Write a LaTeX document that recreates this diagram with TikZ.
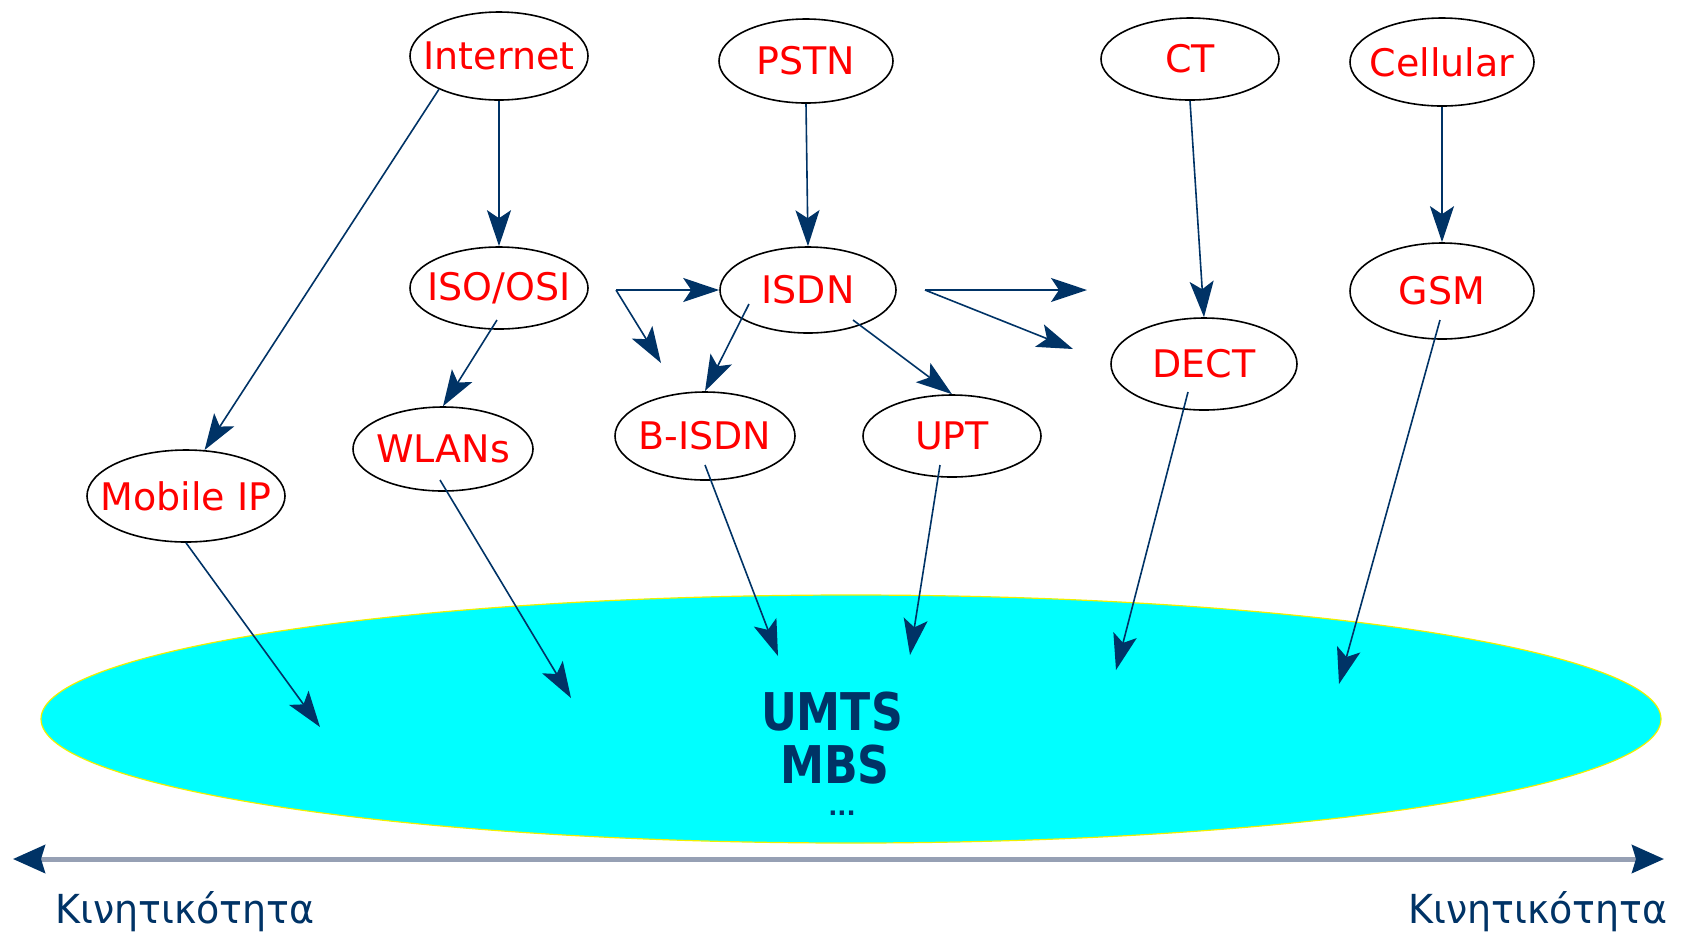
\documentclass[tikz,border=0pt]{standalone}
\usepackage{fontspec}
\setmainfont{DejaVu Sans}
\newfontfamily\greekfont[FakeStretch=0.95]{DejaVu Sans}
\newfontfamily\bigfont[FakeStretch=0.85]{DejaVu Sans}
\usetikzlibrary{shapes.geometric,arrows.meta}
\definecolor{navy}{RGB}{0,51,102}
\definecolor{umtscyan}{RGB}{0,255,255}
\definecolor{axisgrey}{RGB}{150,160,180}
\definecolor{rimyellow}{RGB}{240,240,0}

% a label that does not widen its ellipse
\newcommand\techname[1]{\makebox[0pt][c]{#1}}

\tikzset{
  tech/.style={ellipse, draw=black, line width=0.8pt, inner sep=0pt,
    text=red, font=\fontsize{19}{19}\selectfont},
  link/.style={navy, line width=0.8pt,
    -{Stealth[length=18pt,width=12pt,inset=4pt]}},
  biglabel/.style={text=navy, inner sep=0pt, font=\bigfont\bfseries\fontsize{26}{26}\selectfont},
  axislabel/.style={text=navy, font=\greekfont\fontsize{20}{20}\selectfont},
}

\begin{document}
\begin{tikzpicture}[x=0.5pt,y=-0.5pt]
\useasboundingbox (0,0) rectangle (1683,934);
\fill[white] (0,0) rectangle (1683,934);

% the common platform
\node[ellipse, draw=rimyellow, line width=0.6pt, fill=umtscyan,
      minimum width=810pt, minimum height=124pt, inner sep=0pt] (umts) at (851,719) {};
\node[biglabel] (umtstxt) at (832,712) {UMTS};
\node[biglabel] (mbstxt) at (835,765) {MBS};
\node[text=navy, inner sep=0pt, font=\bfseries\fontsize{12}{12}\selectfont] (dots) at (842,813) {...};

% technologies
\node[tech, minimum width=89pt, minimum height=44pt] (internet) at (499,56) {\techname{Internet}};
\node[tech, minimum width=87pt, minimum height=42pt] (pstn) at (806,61) {\techname{PSTN}};
\node[tech, minimum width=89pt, minimum height=41pt] (ct) at (1190,59) {\techname{CT}};
\node[tech, minimum width=92pt, minimum height=44pt] (cellular) at (1442,62) {\techname{Cellular}};
\node[tech, minimum width=89pt, minimum height=41pt] (iso) at (499,288) {\techname{ISO/OSI}};
\node[tech, minimum width=88pt, minimum height=43pt] (isdn) at (808,290) {\techname{ISDN}};
\node[tech, minimum width=92pt, minimum height=48pt] (gsm) at (1442,291) {\techname{GSM}};
\node[tech, minimum width=93pt, minimum height=46pt] (dect) at (1204,364) {\techname{DECT}};
\node[tech, minimum width=90pt, minimum height=44pt] (bisdn) at (705,436) {\techname{B-ISDN}};
\node[tech, minimum width=89pt, minimum height=41pt] (upt) at (952,436) {\techname{UPT}};
\node[tech, minimum width=90pt, minimum height=42pt] (wlans) at (443,449) {\techname{WLANs}};
\node[tech, minimum width=99pt, minimum height=46pt] (mobip) at (186,496) {\techname{Mobile IP}};

% connector end points
\coordinate (isofork) at (616,290);
\coordinate (isoloose) at (661,363);
\coordinate (isdnfork) at (925,290);
\coordinate (isdnlooseA) at (1087,290);
\coordinate (isdnlooseB) at (1073,349);
\coordinate (isdnfootL) at (749,304);
\coordinate (isdnfootR) at (853,320);
\coordinate (isofoot) at (497,320);
\coordinate (wlansfoot) at (440,480);
\coordinate (bisdnfoot) at (705,465);
\coordinate (uptfoot) at (940,465);
\coordinate (dectfoot) at (1188,392);
\coordinate (gsmfoot) at (1440,320);
\coordinate (hitA) at (320,727);
\coordinate (hitB) at (571,698);
\coordinate (hitC) at (778,656);
\coordinate (hitD) at (910,655);
\coordinate (hitE) at (1116,670);
\coordinate (hitF) at (1339,684);

% evolution arrows
\draw[link] (internet.209) -- (mobip.68);
\draw[link] (internet.south) -- (iso.north);
\draw[link] (pstn.south) -- (isdn.north);
\draw[link] (ct.south) -- (dect.north);
\draw[link] (cellular.south) -- (gsm.north);
\draw[link] (isofoot) -- (wlans.north);
\draw[link] (isofork) -- (isdn.west);
\draw[link] (isofork) -- (isoloose);
\draw[link] (isdnfootL) -- (bisdn.north);
\draw[link] (isdnfootR) -- (upt.north);
\draw[link] (isdnfork) -- (isdnlooseA);
\draw[link] (isdnfork) -- (isdnlooseB);

% convergence arrows
\draw[link] (mobip.south) -- (hitA);
\draw[link] (wlansfoot) -- (hitB);
\draw[link] (bisdnfoot) -- (hitC);
\draw[link] (uptfoot) -- (hitD);
\draw[link] (dectfoot) -- (hitE);
\draw[link] (gsmfoot) -- (hitF);

% mobility axis
\coordinate (axisL) at (13,859);
\coordinate (axisR) at (1664,859);
\draw[axisgrey, line width=2.5pt,
  {Stealth[length=16pt,width=14pt,inset=2pt,color=navy]}-{Stealth[length=16pt,width=14pt,inset=2pt,color=navy]}]
  (axisL) -- (axisR);
\node[axislabel] (mobL) at (185,912) {Κινητικότητα};
\node[axislabel] (mobR) at (1538,912) {Κινητικότητα};
\end{tikzpicture}
\end{document}
